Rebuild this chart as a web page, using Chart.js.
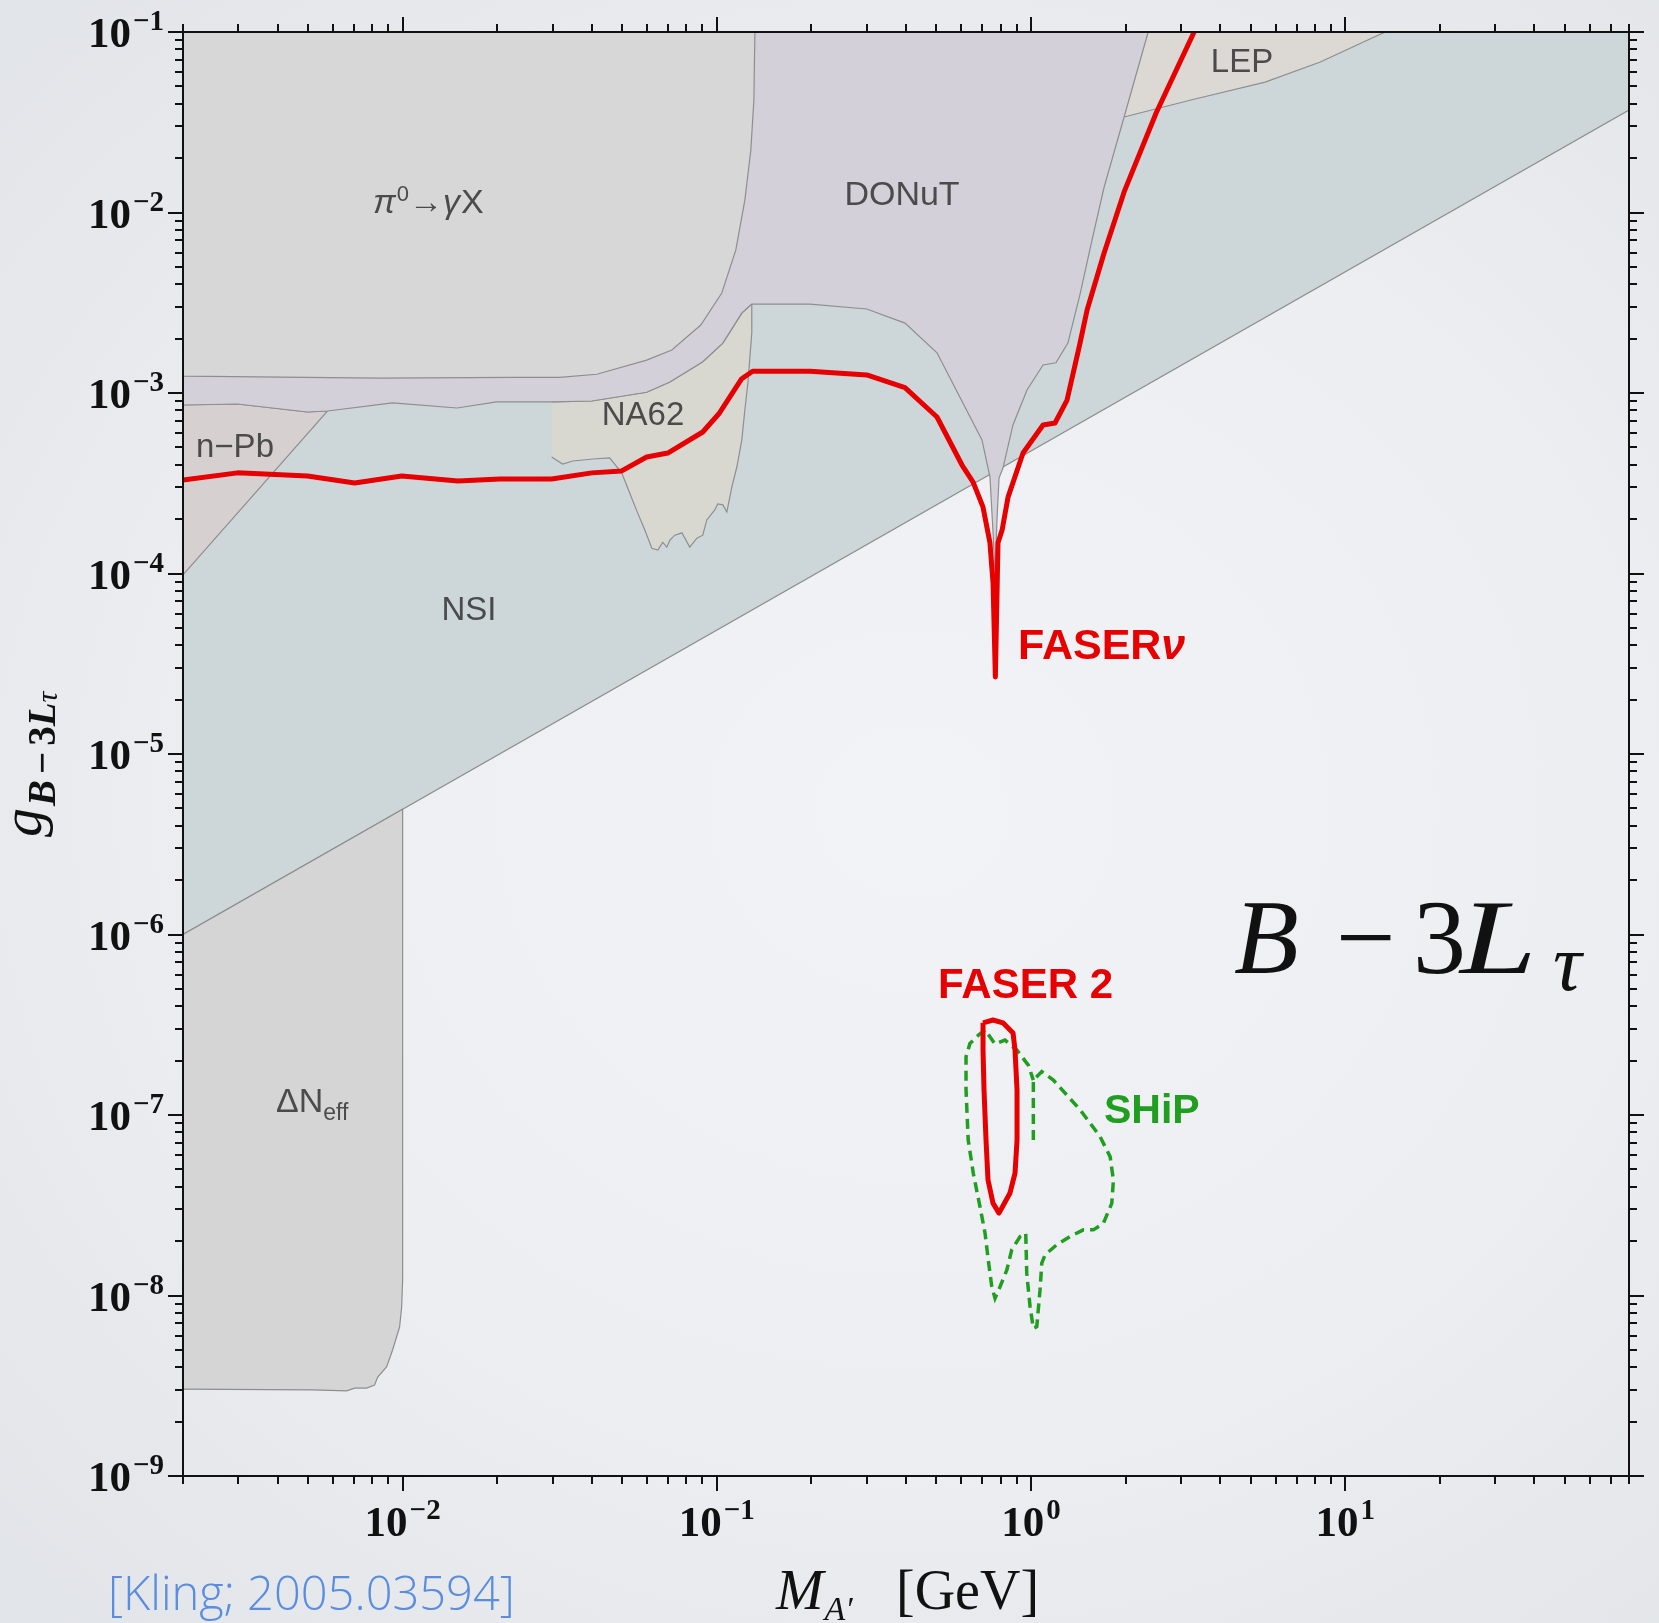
<!DOCTYPE html>
<html>
<head>
<meta charset="utf-8">
<script src="https://cdn.jsdelivr.net/npm/chart.js@4.4.0/dist/chart.umd.min.js"></script>
<style>
  html, body { margin: 0; padding: 0; }
  body {
    width: 1659px; height: 1623px; overflow: hidden;
    background: radial-gradient(ellipse at 55% 50%, #f2f3f6 0%, #eceef1 55%, #e1e4e8 100%);
  }
</style>
</head>
<body>
<canvas id="boundsChart" width="1659" height="1623"></canvas>
<script>
// axis ticks
const xMajorTicks = [0.01, 0.1, 1, 10];
const xTickExp = ['\u22122', '\u22121', '0', '1'];
const xDecades = [0.001, 0.01, 0.1, 1, 10];
const yMajorTicks = [1e-9, 1e-8, 1e-7, 1e-6, 1e-5, 1e-4, 1e-3, 1e-2, 1e-1];
const yTickExp = ['\u22129', '\u22128', '\u22127', '\u22126', '\u22125', '\u22124', '\u22123', '\u22122', '\u22121'];
const yDecades = [1e-9, 1e-8, 1e-7, 1e-6, 1e-5, 1e-4, 1e-3, 1e-2];
const minorSteps = [2, 3, 4, 5, 6, 7, 8, 9];

// FASERnu sensitivity (red)
const faserNuM = [0.002, 0.00298, 0.00498, 0.00704, 0.00993, 0.0150, 0.0204, 0.0298, 0.0400, 0.0498, 0.0598, 0.0698, 0.0902, 0.102, 0.120, 0.130, 0.198, 0.300, 0.397, 0.502, 0.603, 0.654, 0.703, 0.740, 0.757, 0.770, 0.785, 0.809, 0.845, 0.943, 1.092, 1.192, 1.302, 1.432, 1.508, 1.708, 1.978, 2.501, 3.304];
const faserNuG = [3.30e-4, 3.61e-4, 3.47e-4, 3.17e-4, 3.47e-4, 3.25e-4, 3.34e-4, 3.34e-4, 3.61e-4, 3.70e-4, 4.42e-4, 4.65e-4, 6.08e-4, 7.75e-4, 1.20e-3, 1.32e-3, 1.32e-3, 1.26e-3, 1.07e-3, 7.36e-4, 3.99e-4, 3.21e-4, 2.34e-4, 1.48e-4, 8.86e-5, 2.67e-5, 1.48e-4, 1.74e-4, 2.65e-4, 4.65e-4, 6.65e-4, 6.82e-4, 9.14e-4, 1.89e-3, 2.88e-3, 5.97e-3, 1.30e-2, 3.56e-2, 1e-1];

// FASER 2 contour (red)
const faser2M = [0.7034, 0.7568, 0.8143, 0.8764, 0.8893, 0.9025, 0.9025, 0.8893, 0.8573, 0.7906, 0.7568, 0.7296, 0.7190, 0.7085, 0.7034, 0.7034];
const faser2G = [3.24e-7, 3.36e-7, 3.24e-7, 2.85e-7, 2.29e-7, 1.38e-7, 7.27e-8, 4.77e-8, 3.70e-8, 2.86e-8, 3.25e-8, 4.36e-8, 7.27e-8, 1.38e-7, 2.29e-7, 3.24e-7];

// SHiP contour (green dashed)
const shipM = [1.017, 1.017, 1.082, 1.178, 1.432, 1.659, 1.785, 1.829, 1.807, 1.699, 1.579, 1.467, 1.331, 1.207, 1.108, 1.082, 1.068, 1.043, 1.017, 0.993, 0.969, 0.962, 0.923, 0.868, 0.837, 0.797, 0.768, 0.750, 0.731, 0.714, 0.688, 0.655, 0.631, 0.621, 0.621, 0.639, 0.680, 0.714, 0.768, 0.826, 0.901, 0.980, 1.017];
const shipG = [7.27e-8, 1.56e-7, 1.74e-7, 1.56e-7, 1.07e-7, 7.59e-8, 5.88e-8, 4.36e-8, 3.24e-8, 2.51e-8, 2.31e-8, 2.31e-8, 2.12e-8, 1.91e-8, 1.68e-8, 1.51e-8, 1.07e-8, 6.72e-9, 6.58e-9, 8.67e-9, 1.33e-8, 2.21e-8, 2.12e-8, 1.79e-8, 1.38e-8, 1.12e-8, 9.65e-9, 1.12e-8, 1.57e-8, 2.21e-8, 3.10e-8, 4.75e-8, 7.27e-8, 1.38e-7, 2.10e-7, 2.49e-7, 2.77e-7, 2.96e-7, 2.47e-7, 2.60e-7, 2.29e-7, 1.89e-7, 1.56e-7];

// excluded regions
const pi0M = [0.002, 0.002, 0.00845, 0.0224, 0.0316, 0.0415, 0.0598, 0.0719, 0.0889, 0.1037, 0.1149, 0.1228, 0.1283, 0.1312, 0.1322];
const pi0G = [0.1, 1.24e-3, 1.21e-3, 1.22e-3, 1.22e-3, 1.27e-3, 1.52e-3, 1.73e-3, 2.38e-3, 3.58e-3, 6.19e-3, 1.17e-2, 2.22e-2, 4.2e-2, 0.1];

const donutM = [0.002, 0.002, 0.00298, 0.00498, 0.00577, 0.00929, 0.0149, 0.0199, 0.0298, 0.0400, 0.0598, 0.0709, 0.0902, 0.1045, 0.120, 0.129, 0.198, 0.300, 0.397, 0.502, 0.607, 0.698, 0.740, 0.757, 0.768, 0.779, 0.791, 0.814, 0.876, 0.971, 1.092, 1.20, 1.31, 1.43, 1.564, 1.708, 1.978, 2.359];
const donutG = [0.1, 8.58e-4, 8.69e-4, 7.85e-4, 7.95e-4, 8.81e-4, 8.26e-4, 8.92e-4, 8.92e-4, 9.03e-4, 1.01e-3, 1.15e-3, 1.49e-3, 1.89e-3, 2.77e-3, 3.11e-3, 3.11e-3, 2.92e-3, 2.44e-3, 1.67e-3, 8.81e-4, 5.50e-4, 3.43e-4, 1.68e-4, 9.8e-5, 1.98e-4, 3.38e-4, 3.84e-4, 6.65e-4, 1.04e-3, 1.43e-3, 1.47e-3, 1.89e-3, 3.49e-3, 7.05e-3, 1.38e-2, 3.38e-2, 0.1];

const na62M = [0.0298, 0.0400, 0.0598, 0.0709, 0.0902, 0.1045, 0.1201, 0.1292, 0.1292, 0.1255, 0.1228, 0.1201, 0.1158, 0.1116, 0.1076, 0.1045, 0.1007, 0.0985, 0.0929, 0.0902, 0.0864, 0.0820, 0.0774, 0.0735, 0.0709, 0.0693, 0.0673, 0.0649, 0.0621, 0.0590, 0.0560, 0.0528, 0.0498, 0.0456, 0.0403, 0.0348, 0.0323, 0.0298];
const na62G = [8.92e-4, 9.03e-4, 1.01e-3, 1.15e-3, 1.49e-3, 1.89e-3, 2.77e-3, 3.11e-3, 2.15e-3, 1.13e-3, 8.05e-4, 5.50e-4, 3.89e-4, 3.01e-4, 2.19e-4, 2.40e-4, 2.43e-4, 2.25e-4, 1.98e-4, 1.63e-4, 1.57e-4, 1.40e-4, 1.68e-4, 1.63e-4, 1.53e-4, 1.40e-4, 1.49e-4, 1.35e-4, 1.38e-4, 1.74e-4, 2.16e-4, 2.79e-4, 3.61e-4, 4.37e-4, 4.31e-4, 4.20e-4, 4.04e-4, 4.42e-4];

const nPbM = [0.002, 0.00298, 0.00498, 0.00577, 0.002];
const nPbG = [8.58e-4, 8.69e-4, 7.85e-4, 7.95e-4, 9.82e-5];

const lepM = [1.978, 3.23, 5.56, 8.33, 11.25, 13.4, 2.359];
const lepG = [3.38e-2, 4.2e-2, 5.28e-2, 6.82e-2, 8.69e-2, 0.1, 0.1];

const nsiM = [0.002, 80, 80, 0.002];
const nsiG = [1e-6, 3.7e-2, 0.1, 0.1];

const neffM = [0.002, 0.01, 0.01, 0.00993, 0.00978, 0.00929, 0.00889, 0.00833, 0.00814, 0.00768, 0.00704, 0.00663, 0.00517, 0.002];
const neffG = [1e-6, 4.94e-6, 1.22e-8, 8.64e-9, 6.69e-9, 4.99e-9, 4.02e-9, 3.53e-9, 3.19e-9, 3.07e-9, 3.07e-9, 2.96e-9, 3.0e-9, 3.03e-9];

function pts(ms, gs) {
  return ms.map((m, i) => ({ x: m, y: gs[i] }));
}

function region(label, ms, gs, color) {
  return {
    label: label,
    data: pts(ms, gs),
    showLine: true,
    fill: 'shape',
    backgroundColor: color,
    borderColor: '#8e8e8e',
    borderWidth: 1.2,
    pointRadius: 0
  };
}

const SERIF = '"Liberation Serif", "DejaVu Serif", serif';
const SANS = '"Liberation Sans", Arial, sans-serif';

// 10^n label
function drawPow(c, exp, x, baseY, align) {
  c.font = 'bold 43px ' + SERIF;
  const w1 = c.measureText('10').width;
  c.font = 'bold 29px ' + SERIF;
  const w2 = c.measureText(exp).width;
  const total = w1 + 2 + w2;
  const x0 = align === 'right' ? x - total : x - total / 2;
  c.textAlign = 'left';
  c.font = 'bold 43px ' + SERIF;
  c.fillText('10', x0, baseY);
  c.font = 'bold 29px ' + SERIF;
  c.fillText(exp, x0 + w1 + 2, baseY - 17);
}

// draws pieces [text, font, dy, extra gap] one after the other
function drawRun(c, pieces, x, y) {
  let cx = x;
  c.textAlign = 'left';
  for (const p of pieces) {
    c.font = p[1];
    c.fillText(p[0], cx, y + (p[2] || 0));
    cx += c.measureText(p[0]).width + (p[3] || 0);
  }
}

const frameAndText = {
  id: 'frameAndText',
  afterDatasetsDraw(chart) {
    const c = chart.ctx;
    c.save();
    c.textBaseline = 'alphabetic';

    // region names
    c.fillStyle = '#4b4b4b';
    c.textAlign = 'center';
    c.font = '34px ' + SANS;
    c.fillText('DONuT', 902, 205);
    c.font = '33px ' + SANS;
    c.fillText('NA62', 643, 425);
    c.fillText('NSI', 469, 620);
    c.fillText('LEP', 1242, 72);
    c.textAlign = 'left';
    c.fillText('n\u2212Pb', 196, 457);
    drawRun(c, [['\u0394N', '34px ' + SANS], ['eff', '23px ' + SANS, 8]], 276, 1112);
    drawRun(c, [
      ['\u03c0', 'italic 34px ' + SANS, 0, 1],
      ['0', '22px ' + SANS, -12],
      ['\u2192', '34px ' + SANS],
      ['\u03b3', 'italic 34px ' + SANS, 0, 1],
      ['X', '34px ' + SANS]
    ], 373, 213);

    // experiment names
    c.fillStyle = '#e60000';
    drawRun(c, [['FASER', 'bold 43px ' + SANS], ['\u03bd', 'italic bold 43px ' + SANS]], 1018, 659);
    c.font = 'bold 42px ' + SANS;
    c.fillText('FASER 2', 938, 998);
    c.fillStyle = '#1f9e1f';
    c.font = 'bold 41px ' + SANS;
    c.fillText('SHiP', 1104, 1123);

    // model name
    c.fillStyle = '#111';
    c.font = 'italic 106px ' + SERIF;
    c.fillText('B', 1234, 973);
    c.font = '106px ' + SERIF;
    c.fillText('\u2212', 1336, 973);
    c.fillText('3', 1413, 973);
    c.save();
    c.translate(1460, 973);
    c.scale(1.3, 1);
    c.font = 'italic 106px ' + SERIF;
    c.fillText('L', 0, 0);
    c.restore();
    c.font = 'italic 80px ' + SERIF;
    c.fillText('\u03c4', 1553, 990);
    c.restore();
  },
  afterDraw(chart) {
    const c = chart.ctx;
    const xs = chart.scales.x, ys = chart.scales.y;
    const { left, right, top, bottom } = chart.chartArea;
    c.save();
    c.strokeStyle = '#111';
    c.fillStyle = '#111';
    c.lineWidth = 2;
    c.strokeRect(left, top, right - left, bottom - top);

    c.beginPath();
    // x ticks, top and bottom, pointing out
    for (const d of xDecades) {
      for (const s of [1].concat(minorSteps)) {
        const v = d * s;
        if (v < xs.min * 0.999 || v > xs.max * 1.001) continue;
        const px = Math.round(xs.getPixelForValue(v));
        const len = s === 1 ? 15 : 8;
        c.moveTo(px, bottom); c.lineTo(px, bottom + len);
        c.moveTo(px, top); c.lineTo(px, top - len);
      }
    }
    // y ticks, left and right, pointing out
    for (const d of yDecades) {
      for (const s of [1].concat(minorSteps)) {
        const v = d * s;
        if (v < ys.min * 0.999 || v > ys.max * 1.001) continue;
        const py = Math.round(ys.getPixelForValue(v));
        const len = s === 1 ? 15 : 8;
        c.moveTo(left, py); c.lineTo(left - len, py);
        c.moveTo(right, py); c.lineTo(right + len, py);
      }
    }
    const pyTop = Math.round(ys.getPixelForValue(ys.max));
    c.moveTo(left, pyTop); c.lineTo(left - 15, pyTop);
    c.moveTo(right, pyTop); c.lineTo(right + 15, pyTop);
    c.stroke();

    // tick labels
    c.textBaseline = 'alphabetic';
    yMajorTicks.forEach((v, i) => {
      drawPow(c, yTickExp[i], 164, ys.getPixelForValue(v) + 15, 'right');
    });
    xMajorTicks.forEach((v, i) => {
      drawPow(c, xTickExp[i], xs.getPixelForValue(v), bottom + 60, 'center');
    });

    // y title, rotated
    c.save();
    c.translate(41, 837);
    c.rotate(-Math.PI / 2);
    drawRun(c, [
      ['g', 'italic 58px ' + SERIF, 0, 2],
      ['B', 'italic bold 39px ' + SERIF, 14, 6],
      ['\u2212', 'bold 39px ' + SERIF, 14, 6],
      ['3', 'bold 39px ' + SERIF, 14, 0],
      ['L', 'italic bold 39px ' + SERIF, 14, 0],
      ['\u03c4', 'italic 30px ' + SERIF, 16]
    ], 0, 0);
    c.restore();

    // x title
    drawRun(c, [['M', 'italic 57px ' + SERIF, 0, 1], ['A\u2032', 'italic 34px ' + SERIF, 11]], 776, 1609);
    c.font = '56px ' + SERIF;
    c.fillText('[GeV]', 896, 1609);

    // reference
    c.fillStyle = '#5a8de0';
    c.font = '300 47px "Open Sans", ' + SANS;
    c.fillText('[Kling; 2005.03594]', 108, 1610);
    c.restore();
  }
};

const ctx = document.getElementById('boundsChart').getContext('2d');
const boundsChart = new Chart(ctx, {
  type: 'scatter',
  data: {
    datasets: [
      {
        label: 'FASER 2', data: pts(faser2M, faser2G), showLine: true, fill: false,
        borderColor: '#e60000', borderWidth: 5, pointRadius: 0, borderJoinStyle: 'round'
      },
      {
        label: 'FASERnu', data: pts(faserNuM, faserNuG), showLine: true, fill: false,
        borderColor: '#e60000', borderWidth: 5, pointRadius: 0, borderJoinStyle: 'round'
      },
      {
        label: 'SHiP', data: pts(shipM, shipG), showLine: true, fill: false,
        borderColor: '#1f9e1f', borderWidth: 3.5, borderDash: [10, 6], pointRadius: 0
      },
      region('pi0', pi0M, pi0G, '#d7d7d7'),
      region('DONuT', donutM, donutG, '#d3d0da'),
      region('NA62', na62M, na62G, '#d8d8d0'),
      region('n-Pb', nPbM, nPbG, '#d6d1d0'),
      region('LEP', lepM, lepG, '#dcd8d4'),
      region('Neff', neffM, neffG, '#d5d5d5'),
      region('NSI', nsiM, nsiG, '#cdd7d9')
    ]
  },
  options: {
    responsive: false,
    animation: false,
    devicePixelRatio: 1,
    layout: { padding: { left: 183, right: 30, top: 32, bottom: 147 } },
    scales: {
      x: { type: 'logarithmic', min: 0.002, max: 80, display: false, bounds: 'data' },
      y: { type: 'logarithmic', min: 1e-9, max: 0.1, display: false, bounds: 'data' }
    },
    plugins: {
      legend: { display: false },
      tooltip: { enabled: false }
    }
  },
  plugins: [frameAndText]
});
</script>
</body>
</html>
